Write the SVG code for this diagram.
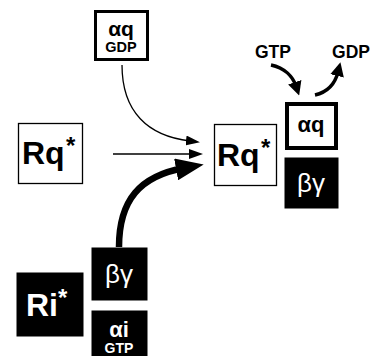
<svg xmlns="http://www.w3.org/2000/svg" width="370" height="356" viewBox="0 0 370 356">
<style>
.t{font-family:"Liberation Sans",Arial,sans-serif;text-anchor:middle}
.s{font-family:"Liberation Sans",Arial,sans-serif;text-anchor:start}
.b{font-weight:bold}
.w{fill:#fff}
.wbox{fill:#fff;stroke:#000}
.blk{fill:#000;stroke:#000}
.ln{fill:none;stroke:#000}
</style>
<defs>
<marker id="ahS" markerUnits="userSpaceOnUse" markerWidth="14" markerHeight="10" refX="4" refY="5" orient="auto"><path d="M0,0 L14,5 L0,10 z" fill="#000"/></marker>
<marker id="ahM" markerUnits="userSpaceOnUse" markerWidth="14" markerHeight="14" refX="4" refY="7" orient="auto"><path d="M0,0 L14,7 L0,14 z" fill="#000"/></marker>
<marker id="ahL" markerUnits="userSpaceOnUse" markerWidth="28" markerHeight="22" refX="8" refY="11" orient="auto"><path d="M0,0 L28,11 L0,22 z" fill="#000"/></marker>
</defs>
<rect width="370" height="356" fill="#fff"/>
<g id="connectors">
<path class="ln" d="M122,65 C122,112 148,136 190,141" stroke-width="1.3" marker-end="url(#ahS)"/>
<path class="ln" d="M113,154 L193,154" stroke-width="1.3" marker-end="url(#ahS)"/>
<path class="ln" d="M119,247 C119,200 140,176 184,168" stroke-width="6.5" marker-end="url(#ahL)"/>
<path class="ln" d="M271,65 C285,68 293,77 296,86" stroke-width="3.4" marker-end="url(#ahM)"/>
<path class="ln" d="M315,95 C328,92 335,84 338,72" stroke-width="3.4" marker-end="url(#ahM)"/>
</g>
<g id="aqGDP">
<rect class="wbox" x="95.5" y="11.5" width="52" height="48" stroke-width="3"/>
<text class="t b" x="121" y="36" font-size="21">αq</text>
<text class="t b" x="121" y="52" font-size="14.5">GDP</text>
</g>
<g id="RqLeft">
<rect class="wbox" x="18.5" y="123.5" width="64" height="60" stroke-width="1.3"/>
<text class="s b" x="22" y="164" font-size="32">Rq</text>
<text class="s b" x="66" y="154" font-size="24">*</text>
</g>
<g id="RqRight">
<rect class="wbox" x="214.5" y="124.5" width="62" height="61" stroke-width="1.3"/>
<text class="s b" x="217" y="166" font-size="32">Rq</text>
<text class="s b" x="261" y="156" font-size="24">*</text>
</g>
<g id="GTP"><text class="t b" x="273" y="58" font-size="17.5">GTP</text></g>
<g id="GDP"><text class="t b" x="351" y="58" font-size="17.5">GDP</text></g>
<g id="aqRight">
<rect class="wbox" x="287" y="104" width="49" height="44" stroke-width="4"/>
<text class="t b" x="311" y="132" font-size="22">αq</text>
</g>
<g id="bgRight">
<rect class="blk" x="285" y="158" width="53" height="50"/>
<text class="t w" x="311" y="192" font-size="26">βγ</text>
</g>
<g id="bgLeft">
<rect class="blk" x="92" y="248" width="55" height="52"/>
<text class="t w" x="119" y="283" font-size="26">βγ</text>
</g>
<g id="aiGTP">
<rect class="blk" x="92" y="311" width="55" height="45"/>
<text class="t b w" x="119" y="337" font-size="22">αi</text>
<text class="t b w" x="119" y="353" font-size="14">GTP</text>
</g>
<g id="Ri">
<rect class="blk" x="17" y="273" width="66" height="63"/>
<text class="s b w" x="26" y="316" font-size="32">Ri</text>
<text class="s b w" x="58" y="306" font-size="24">*</text>
</g>
</svg>
